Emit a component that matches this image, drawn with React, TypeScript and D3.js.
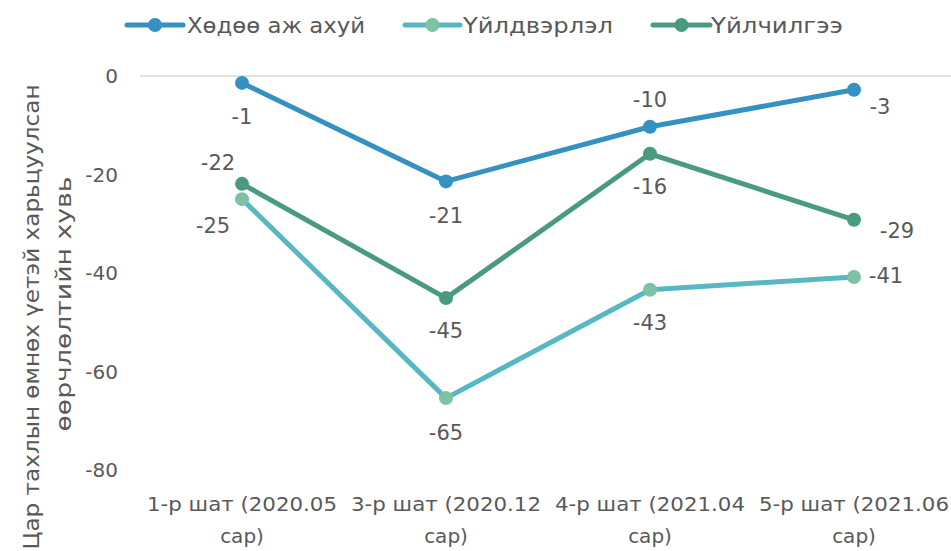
import React from "react";
import * as d3 from "d3";

const categories = [
  ["1-р шат (2020.05", "сар)"],
  ["3-р шат (2020.12", "сар)"],
  ["4-р шат (2021.04", "сар)"],
  ["5-р шат (2021.06", "сар)"],
];
const seriesNames = ["Хөдөө аж ахуй", "Үйлдвэрлэл", "Үйлчилгээ"];
const agriculture = [-1.4, -21.4, -10.3, -2.8];
const industry = [-25.0, -65.4, -43.4, -40.8];
const services = [-21.9, -45.1, -15.8, -29.2];
const yTicks = [0, -20, -40, -60, -80];
const yLabel = ["Цар тахлын өмнөх үетэй харьцуулсан", "өөрчлөлтийн хувь"];

const W = 951;
const H = 551;
const FONT = "'DejaVu Sans', sans-serif";
const TXT = "#595959";

const styles = [
  { line: "#3591c1", marker: "#3591c1" },
  { line: "#57b7c3", marker: "#7cc3a6" },
  { line: "#4a9b7e", marker: "#4a9b7e" },
];
// label offsets [dx, dy] relative to point, per series per point
const labelOffsets = [
  [[0, 34], [0, 34], [0, -27], [26, 17]],
  [[-29, 27], [0, 35], [0, 33], [32, -1]],
  [[-24, -21], [0, 33], [0, 33], [43, 11]],
];
// [lineStart, lineEnd, textStart, textLength]
const legendX = [[127, 183, 187, 178], [405, 460, 463, 150], [653, 710, 711, 132]];
// [center, baseline, length]
const yLabelGeom = [[317, 39, 465], [304, 71, 255]];
const fmt = (v: number) => String(Math.round(v));

export default function App() {
  const all = [agriculture, industry, services];
  const x = d3.scalePoint<number>().domain([0, 1, 2, 3]).range([242, 854]);
  const y = d3.scaleLinear().domain([-80, 0]).range([470, 76]);
  const line = d3
    .line<number>()
    .x((_, i) => x(i)!)
    .y((d) => y(d));
  return (
    <svg
      width={W}
      height={H}
      style={{ position: "absolute", left: 0, top: 0, background: "#fff" }}
      fontFamily={FONT}
    >
      <line x1={140} x2={W} y1={y(0)} y2={y(0)} stroke="#d9d9d9" strokeWidth={1.5} />
      {yTicks.map((t) => (
        <text key={t} x={118} y={y(t)} dy="0.35em" textAnchor="end" fontSize={20} fill={TXT}>
          {fmt(t)}
        </text>
      ))}
      {yLabel.map((l, i) => (
        <text
          key={i}
          transform={`translate(${yLabelGeom[i][1]},${yLabelGeom[i][0]}) rotate(-90)`}
          textAnchor="middle"
          fontSize={21}
          fill={TXT}
          textLength={yLabelGeom[i][2]}
          lengthAdjust="spacingAndGlyphs"
        >
          {l}
        </text>
      ))}
      {categories.map((c, i) => (
        <g key={i}>
          {c.map((l, j) => (
            <text
              key={j}
              x={x(i)!}
              y={511 + j * 32}
              textAnchor="middle"
              fontSize={20}
              fill={TXT}
              textLength={j === 0 ? 190 : undefined}
              lengthAdjust="spacingAndGlyphs"
            >
              {l}
            </text>
          ))}
        </g>
      ))}
      {all.map((s, si) => (
        <g key={si}>
          <path d={line(s)!} fill="none" stroke={styles[si].line} strokeWidth={5} strokeLinejoin="round" />
          {s.map((v, i) => (
            <circle key={i} cx={x(i)!} cy={y(v)} r={7} fill={styles[si].marker} />
          ))}
          {s.map((v, i) => (
            <text
              key={"t" + i}
              x={x(i)! + labelOffsets[si][i][0]}
              y={y(v) + labelOffsets[si][i][1]}
              dy="0.35em"
              textAnchor="middle"
              fontSize={21}
              fill={TXT}
            >
              {fmt(v)}
            </text>
          ))}
        </g>
      ))}
      {seriesNames.map((n, i) => (
        <g key={n}>
          <line x1={legendX[i][0]} x2={legendX[i][1]} y1={25} y2={25} stroke={styles[i].line} strokeWidth={5} strokeLinecap="round" />
          <circle cx={(legendX[i][0] + legendX[i][1]) / 2} cy={25} r={7} fill={styles[i].marker} />
          <text
            x={legendX[i][2]}
            y={25}
            dy="0.35em"
            fontSize={22}
            fill={TXT}
            textLength={legendX[i][3]}
            lengthAdjust="spacingAndGlyphs"
          >
            {n}
          </text>
        </g>
      ))}
    </svg>
  );
}
